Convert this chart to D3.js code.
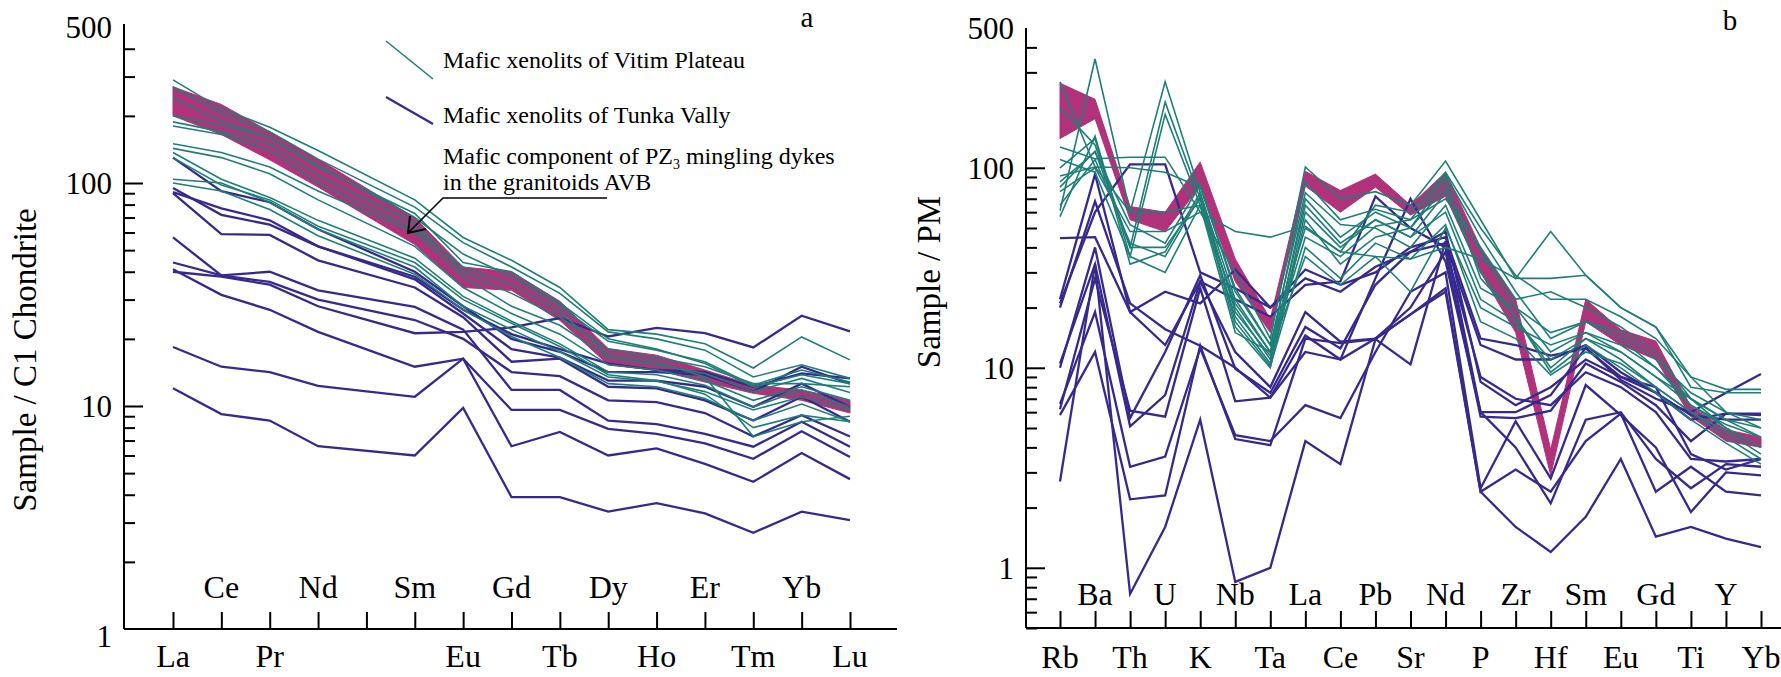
<!DOCTYPE html>
<html>
<head>
<meta charset="utf-8">
<script src="https://cdn.jsdelivr.net/npm/d3@7"></script>
<style>
  html, body { margin: 0; padding: 0; background: #fff; }
  svg { display: block; }
  svg text { font-family: "Liberation Serif", "Times New Roman", serif; }
</style>
</head>
<body>
<svg id="chart" width="1781" height="677"></svg>
<script>
// ---------- Panel a: REE, chondrite-normalised ----------
const reeElements = ["La","Ce","Pr","Nd","Pm","Sm","Eu","Gd","Tb","Dy","Ho","Er","Tm","Yb","Lu"];
const reeLabels   = ["La","Ce","Pr","Nd","","Sm","Eu","Gd","Tb","Dy","Ho","Er","Tm","Yb","Lu"];
const reeYTicks   = [1, 10, 100, 500];

// PZ3 mingling dykes: envelope (upper / lower)
const reeDykeUpper = [270, 225, 170, 128, null, 70, 42, 40, 29.5, 18.1, 16.9, 14.5, 12.4, 11.8, 10.6];
const reeDykeLower = [200, 165, 127, 96, null, 53, 34, 33, 24.2, 15.3, 14.5, 12.8, 11.4, 10.6, 9.3];

// Vitim Plateau xenoliths
const reeVitim = [
  [290, 215, 178, 140, null, 84, 57, 45, 34, 22, 21, 19, 14.8, 20.4, 16.1],
  [270, 205, 170, 128, null, 78, 54, 42, 32, 21.5, 20, 17.8, 13.5, 15.3, 13.3],
  [200, 182, 160, 118, null, 73, 44, 40, 29, 20, 18, 15.5, 12.2, 13.8, 12.6],
  [188, 170, 150, 108, null, 66, 40, 32, 25, 18, 16.5, 15, 12.6, 12.6, 12.2],
  [150, 137, 118, 92, null, 60, 38, 28, 23, 16.5, 15.3, 14, 11.6, 13.3, 11.5],
  [143, 130, 110, 84, null, 52, 34, 26, 21, 15.3, 14.5, 13, 10.6, 12.2, 10.6],
  [137, 104, 86, 68, null, 46, 31, 24, 19, 14.2, 13.8, 12.4, 9.9, 11.8, 9.9],
  [104, 100, 82, 62, null, 42, 28, 22, 17.5, 13.5, 12.9, 11.6, 9.6, 11.0, 9.6],
  [100, 92, 76, 58, null, 39, 27, 20.5, 16.5, 12.6, 12.2, 10.8, 8.6, 10.2, 8.5],
  [130, 98, 84, 64, null, 44, 30, 23.5, 18.5, 13.8, 13.0, 11.3, 8.0, 9.1, 8.5],
  [240, 190, 160, 120, null, 70, 48, 38, 28, 19.5, 17.8, 15.8, 12.4, 14.5, 12.8],
  [180, 165, 140, 100, null, 62, 42, 35, 26.5, 17, 15.8, 13.5, 7.3, 8.5, 9.0]
];

// Tunka Valley xenoliths
const reeTunka = [
  [12, 9.2, 8.6, 6.6, null, 6.0, 9.8, 3.9, 3.9, 3.36, 3.67, 3.3, 2.7, 3.36, 3.08],
  [18.4, 15.0, 14.2, 12.3, null, 11.0, 16.3, 6.6, 7.65, 6.0, 6.45, 5.5, 4.57, 6.15, 4.7],
  [41, 31.5, 27, 21.5, null, 15, 16.3, 9.6, 9.6, 7.9, 7.5, 6.8, 5.8, 7.7, 5.9],
  [40, 38, 35, 28, null, 21.2, 21.5, 22.5, 24.8, 20.5, 22.4, 21.2, 18.3, 25.4, 21.6],
  [44, 38.5, 40, 33, null, 27.8, 22, 11.8, 11.8, 8.6, 8.3, 7.5, 6.57, 8.5, 6.57],
  [57, 38.5, 36, 30, null, 24.3, 20, 14.2, 13.6, 10.6, 10.4, 9.3, 7.3, 9.1, 7.3],
  [90, 59, 58.5, 45, null, 34, 25, 15.8, 16.3, 12.2, 12.0, 10.6, 8.6, 11.0, 8.5],
  [91, 77, 68, 52, null, 37, 26, 18, 16.5, 13, 13, 12.2, 9.9, 12.6, 9.9],
  [130, 92, 82, 62, null, 40, 28, 20, 17.5, 14.2, 14.2, 13.8, 11.6, 15, 12.6],
  [95, 72, 65, 52, null, 38, 27, 21, 18, 15.5, 14.5, 14.2, 12.2, 14, 13.3]
];

// ---------- Panel b: trace elements, primitive-mantle-normalised ----------
const pmElements = ["Rb","Ba","Th","U","K","Nb","Ta","La","Ce","Pb","Sr","Nd","P","Zr","Hf","Sm","Eu","Gd","Ti","Y","Yb"];
const pmLabels   = pmElements;
const pmYTicks   = [1, 10, 100, 500];

const pmDykeUpper = [265, 220, 64, 60, 107, 35, 17.5, 96, 77, 93, 65, 95, 40, 22, 3.9, 22, 15.5, 13.6, 6.4, 4.9, 4.5];
const pmDykeLower = [140, 176, 55, 48, 81, 27, 15, 81, 60, 80, 58, 72, 30, 15, 2.9, 17, 13, 11, 5.7, 4.3, 4.0];

const pmVitim = [
  [61, 350, 60, 269, 75, 22, 12, 85, 55, 62, 55, 92, 45, 24, 14, 17, 14, 10, 7, 5.5, 4.5],
  [80, 121, 40, 213, 70, 20, 11, 70, 45, 60, 50, 80, 38, 20, 12, 15, 12, 9, 7, 5, 4],
  [57, 144, 36, 185, 65, 18, 10.5, 60, 40, 55, 45, 75, 30, 18, 10, 14, 11, 8, 6, 4.5, 3.5],
  [127, 111, 113, 113, 60, 30, 14, 101, 70, 76, 65, 108, 55, 28, 48, 29, 20, 16, 8, 7.5, 7.5],
  [91, 101, 100, 95, 80, 25, 13, 50, 38, 65, 60, 95, 50, 29, 22, 22, 18, 14, 9, 6, 5],
  [269, 101, 60, 60, 65, 15, 12, 45, 36, 51, 55, 70, 40, 22, 24, 20, 16, 12, 7, 5.5, 5],
  [76, 100, 48, 48, 60, 48, 45, 51, 38, 36, 35, 40, 35, 28, 28, 29, 20, 16, 9, 7.8, 7.8],
  [200, 130, 40, 40, 70, 16, 10, 55, 33, 45, 50, 88, 28, 18, 9.5, 13, 10, 7.5, 5.5, 4.2, 3.3],
  [100, 140, 33, 38, 75, 19, 11.5, 65, 42, 55, 45, 60, 22, 17, 11, 14, 12, 9, 6.5, 5, 4],
  [65, 110, 42, 36, 72, 17, 10.2, 40, 28, 42, 35, 52, 17, 14, 9.2, 12, 10.5, 8, 6, 4.8, 3.7],
  [85, 120, 52, 42, 82, 24, 13, 75, 52, 50, 40, 65, 25, 20, 15, 17, 15, 11, 7.5, 6, 5.5],
  [110, 95, 36, 30, 65, 21, 12, 36, 26, 36, 24, 50, 20, 16, 13, 15, 13, 10, 6.5, 5.2, 4.5]
];

const pmTunka = [
  [44.5, 45, 19, 24, 21, 31, 20, 31, 26, 30, 40, 45, 14, 13, 11.5, 12.5, 9, 7.5, 5.5, 5.9, 5.8],
  [22, 93, 19, 13, 27, 22, 18, 26, 27, 72, 50, 40, 9, 7, 6.5, 9.5, 8, 6, 3.5, 3.4, 3.5],
  [20, 68, 21, 15.6, 12.9, 10, 7.1, 14.5, 11, 14, 20, 38, 5.7, 5.6, 6.1, 10.5, 8.5, 6.5, 4.3, 5.9, 5.9],
  [10.5, 33, 5.1, 7.3, 27, 12, 8, 19, 13.5, 14, 18.5, 25, 2.4, 3.1, 2.4, 4.3, 5.9, 2.4, 3.2, 2.4, 2.3],
  [6.6, 19, 3.2, 3.6, 12.5, 4.6, 4.3, 6.5, 5.6, 12, 24, 30, 2.5, 5.4, 2.8, 8.2, 5.8, 4.0, 1.9, 3.0, 2.9],
  [5.8, 12, 2.2, 2.3, 12.9, 4.4, 4.1, 14, 13.3, 13.9, 18.5, 24, 2.4, 1.6, 1.2, 1.8, 3.5, 1.43, 1.6, 1.4, 1.27],
  [2.7, 33, 0.74, 1.6, 5.5, 0.85, 1.0, 4.3, 3.3, 13.9, 10.4, 43, 6.0, 6.0, 7.3, 12.6, 8.7, 7.0, 6.0, 7.5, 9.3],
  [21, 60, 104, 104, 30, 25, 20, 28, 24, 32, 38, 42, 13, 11, 11, 13, 9.5, 7.5, 5.8, 5.5, 5.5],
  [6.2, 28, 6.1, 5.7, 25, 6.8, 7.1, 12, 11, 28, 70, 34, 6.0, 4.0, 2.1, 5.5, 6.0, 3.5, 2.5, 3.3, 3.2],
  [10, 40, 5.6, 12, 29, 9.9, 7.5, 16, 12.5, 26, 38, 48, 8.5, 6.5, 8.0, 11, 9, 8, 3.7, 3.1, 3.5]
];

// ---------- styling ----------
const TEAL = "#1f7f78";
const PURPLE = "#37298e";
const MAGENTA = "#b2317b";
const SERIF = "'Liberation Serif', 'Times New Roman', serif";

const svg = d3.select("#chart").attr("font-family", SERIF);

function minorTicks(lo, hi) {
  const out = [];
  for (let e = Math.floor(Math.log10(lo)); e <= Math.ceil(Math.log10(hi)); e++) {
    for (let m = 2; m <= 9; m++) {
      const v = m * Math.pow(10, e);
      if (v >= lo - 1e-9 && v < hi - 1e-9) out.push(v);
    }
  }
  return out;
}

function drawPanel(cfg) {
  const g = svg.append("g").attr("font-family", SERIF);
  const x = d3.scalePoint().domain(cfg.elements).range(cfg.xRange);
  const y = d3.scaleLog().domain(cfg.yDomain).range(cfg.yRange);

  const toPts = arr => arr.map((v, i) => ({ el: cfg.elements[i], v })).filter(d => d.v != null);
  const line = d3.line().x(d => x(d.el)).y(d => y(d.v));

  // envelope of the dyke samples
  const bandPts = cfg.upper.map((u, i) => ({ el: cfg.elements[i], u, l: cfg.lower[i] }))
                           .filter(d => d.u != null);
  const area = d3.area().x(d => x(d.el)).y0(d => y(d.l)).y1(d => y(d.u));
  g.append("path").datum(bandPts).attr("d", area)
    .attr("fill", MAGENTA).attr("stroke", MAGENTA).attr("stroke-width", 1);

  g.append("g").selectAll("path").data(cfg.tunka).join("path")
    .attr("d", d => line(toPts(d)))
    .attr("fill", "none").attr("stroke", PURPLE).attr("stroke-width", 2.3)
    .attr("stroke-linejoin", "miter");

  g.append("g").selectAll("path").data(cfg.vitim).join("path")
    .attr("d", d => line(toPts(d)))
    .attr("fill", "none").attr("stroke", TEAL).attr("stroke-width", 1.6)
    .attr("stroke-linejoin", "miter");

  // y axis: line, minor ticks, major ticks, labels
  const yAxisG = g.append("g").attr("transform", `translate(${cfg.axisX},0)`);
  yAxisG.append("line")
    .attr("x1", 0).attr("x2", 0).attr("y1", cfg.yTop).attr("y2", cfg.axisY)
    .attr("stroke", "#000").attr("stroke-width", 2);
  const minorG = yAxisG.append("g")
    .call(d3.axisLeft(y).tickValues(minorTicks(cfg.yDomain[0], cfg.yDomain[1])).tickSize(-11).tickFormat(""));
  const majorG = yAxisG.append("g")
    .call(d3.axisLeft(y).tickValues(cfg.majorTicks).tickSize(-19).tickFormat(""));
  const labelG = yAxisG.append("g")
    .call(d3.axisLeft(y).tickValues(cfg.yTicks).tickSize(0).tickPadding(cfg.labelPad).tickFormat(d3.format("d")));
  [minorG, majorG, labelG].forEach(a => { a.select(".domain").remove(); a.attr("font-family", SERIF); });
  yAxisG.selectAll(".tick line").attr("stroke", "#000").attr("stroke-width", 2);
  labelG.selectAll("text")
    .attr("font-size", 31).attr("fill", "#000")
    .attr("font-family", SERIF)
    .attr("dy", d => (d === 1 && cfg.oneShift) ? "0.55em" : "0.35em");

  // x axis with upward ticks and two label rows
  const xAxisG = g.append("g").attr("transform", `translate(0,${cfg.axisY})`);
  xAxisG.append("line")
    .attr("x1", cfg.axisX).attr("x2", cfg.xEnd).attr("y1", 0).attr("y2", 0)
    .attr("stroke", "#000").attr("stroke-width", 2);
  const xa = xAxisG.append("g").call(d3.axisBottom(x).tickSize(-17).tickFormat(""));
  xa.select(".domain").remove();
  xa.selectAll(".tick line").attr("stroke", "#000").attr("stroke-width", 2);

  g.append("g").selectAll("text").data(cfg.labels.map((t, i) => ({ t, i, el: cfg.elements[i] })).filter(d => d.t))
    .join("text")
    .attr("x", d => x(d.el))
    .attr("y", d => d.i % 2 === 1 ? cfg.upperRowY : cfg.lowerRowY)
    .attr("text-anchor", "middle")
    .attr("font-family", SERIF)
    .attr("font-size", 32)
    .attr("fill", "#000")
    .text(d => d.t);

  // axis title
  g.append("text")
    .attr("transform", `translate(${cfg.titleX},${cfg.titleY}) rotate(-90)`)
    .attr("text-anchor", "middle")
    .attr("font-family", SERIF)
    .attr("font-size", 33)
    .attr("fill", "#000")
    .text(cfg.title);

  // panel letter
  g.append("text")
    .attr("x", cfg.letterX).attr("y", cfg.letterY)
    .attr("text-anchor", "middle")
    .attr("font-family", SERIF)
    .attr("font-size", 29)
    .attr("fill", "#000")
    .text(cfg.letter);

  return { x, y, g };
}

drawPanel({
  elements: reeElements, labels: reeLabels,
  xRange: [173, 850], yDomain: [1, 500], yRange: [629, 629 - 223 * Math.log10(500)],
  yTop: 24, axisX: 124, axisY: 629, xEnd: 897,
  yTicks: reeYTicks, majorTicks: [10, 100], labelPad: 12, oneShift: true,
  upper: reeDykeUpper, lower: reeDykeLower, vitim: reeVitim, tunka: reeTunka,
  upperRowY: 598, lowerRowY: 667,
  title: "Sample / C1 Chondrite", titleX: 36, titleY: 360,
  letter: "a", letterX: 807, letterY: 27
});

drawPanel({
  elements: pmElements, labels: pmLabels,
  xRange: [1060, 1761], yDomain: [0.5, 500], yRange: [628, 28],
  yTop: 28, axisX: 1026, axisY: 628, xEnd: 1781,
  yTicks: pmYTicks, majorTicks: [1, 10, 100], labelPad: 12, oneShift: false,
  upper: pmDykeUpper, lower: pmDykeLower, vitim: pmVitim, tunka: pmTunka,
  upperRowY: 605, lowerRowY: 668,
  title: "Sample / PM", titleX: 940, titleY: 282,
  letter: "b", letterX: 1730, letterY: 30
});

// ---------- legend of panel a ----------
const legend = svg.append("g").attr("font-size", 24).attr("font-family", SERIF).attr("fill", "#000");
legend.append("line").attr("x1", 386).attr("y1", 41).attr("x2", 433).attr("y2", 79)
  .attr("stroke", TEAL).attr("stroke-width", 1.6);
legend.append("text").attr("x", 443).attr("y", 68).text("Mafic xenolits of Vitim Plateau");
legend.append("line").attr("x1", 386).attr("y1", 97).attr("x2", 433).attr("y2", 124)
  .attr("stroke", PURPLE).attr("stroke-width", 2.3);
legend.append("text").attr("x", 443).attr("y", 123).text("Mafic xenolits of Tunka Vally");

const dykeLabel = legend.append("text").attr("x", 443).attr("y", 164);
dykeLabel.append("tspan").text("Mafic component of PZ");
dykeLabel.append("tspan").attr("font-size", 14).attr("dy", 5).text("3");
dykeLabel.append("tspan").attr("dy", -5).text(" mingling dykes");
legend.append("text").attr("x", 443).attr("y", 190).text("in the granitoids AVB");

// leader line with open arrowhead pointing at the dyke envelope
legend.append("path")
  .attr("d", "M607,198 L443,198 L408,233")
  .attr("fill", "none").attr("stroke", "#000").attr("stroke-width", 1.6);
legend.append("path")
  .attr("d", "M410,216 L408,233 L426,229")
  .attr("fill", "none").attr("stroke", "#000").attr("stroke-width", 2);
</script>
</body>
</html>
